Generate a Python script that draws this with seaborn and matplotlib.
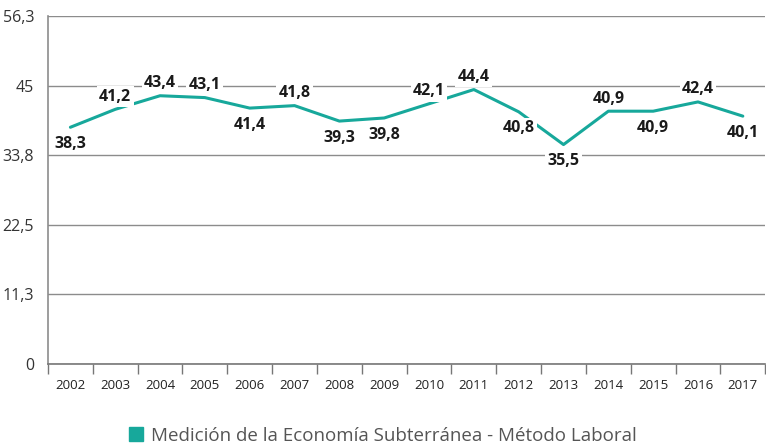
import matplotlib
matplotlib.use('Agg')
import matplotlib.pyplot as plt
import matplotlib.patches as mpatches
import seaborn as sns
import pandas as pd

years = ['2002', '2003', '2004', '2005', '2006', '2007', '2008', '2009',
         '2010', '2011', '2012', '2013', '2014', '2015', '2016', '2017']
values = [38.3, 41.2, 43.4, 43.1, 41.4, 41.8, 39.3, 39.8,
          42.1, 44.4, 40.8, 35.5, 40.9, 40.9, 42.4, 40.1]
yticks = [0, 11.3, 22.5, 33.8, 45, 56.3]
series_name = 'Medición de la Economía Subterránea - Método Laboral'

# where each value label sits relative to its point
label_side = ['b', 'a', 'a', 'a', 'b', 'a', 'b', 'b',
              'a', 'a', 'b', 'b', 'a', 'b', 'a', 'b']

teal = '#17a89b'
grid_c = '#8c8c8c'


def fmt(v):
    s = ('%.1f' % v).rstrip('0').rstrip('.')
    return s.replace('.', ',')


def main():
    sns.set_theme(style='white')
    plt.rcParams['font.family'] = ['Open Sans', 'DejaVu Sans']

    df = pd.DataFrame({'year': years, 'value': values})

    fig = plt.figure(figsize=(7.66, 4.46), dpi=100)
    ax = fig.add_axes([48 / 766, 1 - 364 / 446, 1 - 48 / 766 - 0.001, 348 / 446])

    sns.lineplot(data=df, x='year', y='value', color=teal, linewidth=2.2,
                 ax=ax, zorder=3, sort=False)

    ax.set_ylim(0, 56.3)
    ax.set_xlim(-0.5, len(years) - 0.5)
    ax.set_yticks(yticks)
    ax.set_yticklabels([fmt(t) for t in yticks], fontsize=11.5, color='#333333')
    ax.yaxis.grid(True, color=grid_c, linewidth=1)
    ax.set_axisbelow(True)
    ax.tick_params(axis='y', length=8, width=1, color=grid_c, pad=2)

    ax.set_xticks(range(len(years)))
    ax.set_xticklabels(years, fontsize=9.5, color='#222222')
    ax.set_xticks([i - 0.5 for i in range(len(years) + 1)], minor=True)
    ax.tick_params(axis='x', which='major', length=0, pad=11)
    ax.tick_params(axis='x', which='minor', length=7, width=1, color='#777777',
                   direction='out', bottom=True)

    for side in ['top', 'right']:
        ax.spines[side].set_visible(False)
    ax.spines['left'].set_color(grid_c)
    ax.spines['bottom'].set_color('#777777')
    ax.spines['left'].set_linewidth(1.2)
    ax.spines['bottom'].set_linewidth(1.2)
    ax.set_xlabel('')
    ax.set_ylabel('')

    for i, (v, s) in enumerate(zip(values, label_side)):
        dy = 9 if s == 'a' else -12
        ax.annotate(fmt(v), (i, v), xytext=(0, dy), textcoords='offset points',
                    ha='center', va='center', fontsize=11.5, fontweight='bold',
                    color='#1a1a1a', zorder=6, annotation_clip=False,
                    bbox=dict(boxstyle='square,pad=0.15', fc='white', ec='none'))

    handle = mpatches.Patch(color=teal, label=series_name)
    fig.legend(handles=[handle], loc='lower center', bbox_to_anchor=(0.5, -0.035),
               frameon=False, fontsize=13.5, handlelength=0.75, handleheight=0.75,
               handletextpad=0.45, labelcolor='#555555')

    fig.savefig('out.png', dpi=100)


if __name__ == '__main__':
    main()
